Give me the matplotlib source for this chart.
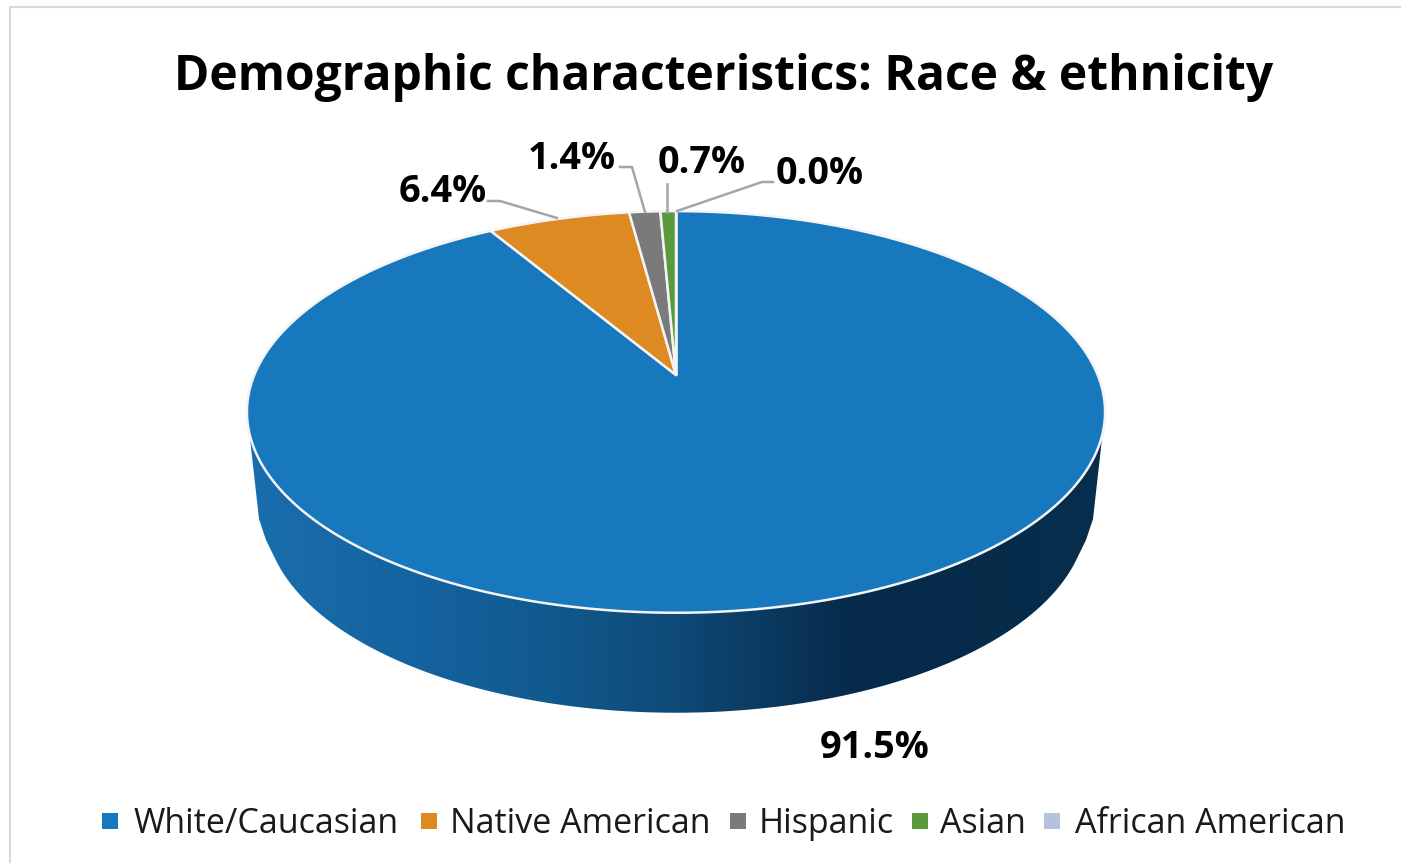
"""3D-look pie: demographic characteristics, race and ethnicity."""

import matplotlib
matplotlib.use("Agg")
import matplotlib.pyplot as plt
import numpy as np
from matplotlib.colors import LinearSegmentedColormap
from matplotlib.patches import Polygon, Rectangle

TITLE = "Demographic characteristics: Race & ethnicity"
CATEGORIES = ["White/Caucasian", "Native American", "Hispanic", "Asian", "African American"]
VALUES = [91.5, 6.4, 1.4, 0.7, 0.0]
LABELS = ["91.5%", "6.4%", "1.4%", "0.7%", "0.0%"]
COLORS = ["#1878BD", "#DD8A22", "#7A7A7A", "#5B9A3C", "#B4C1E0"]

W, H = 1401, 863
FONT = "Open Sans"

# pie projection, in pixels: apex, widths and perspective
APEX_X, APEX_Y = 676, 375
PROJ_A, PROJ_B, PROJ_K = 421.7, 194.0, 0.184
ELLIPSE_MID_Y = 412
RIM_DROP = 103
RIM_SCALE_X = 0.958
RIM_SCALE_Y = 0.985
RIM_TANGENT_Y = 560
# half width, y: rounds the side edge into the bottom curve
RIM_SHOULDER_HALF = np.array([417, 410])
RIM_SHOULDER_Y = np.array([519, 540])

# label anchors and leader lines (pixels)
LABEL_POS = [(875, 748), (443, 192), (572, 159), (702, 163), (820, 174)]
LEADERS = [
    None,
    [(488, 201), (500, 201), (557, 218)],
    [(620, 167), (632, 167), (645, 212)],
    [(667, 184), (667, 212)],
    [(773, 182), (762, 182), (677, 211)],
]
LEGEND_MARK_X = [110, 429, 738, 920, 1052]
LEGEND_TEXT_X = [133, 450, 759, 940, 1075]
LEGEND_Y = 821


def project(theta):
    """Map clockwise angle from 12 o'clock on the disc to picture pixels."""
    u, v = np.sin(theta), np.cos(theta)
    d = 1 + PROJ_K * v
    return np.column_stack([APEX_X + PROJ_A * u / d, APEX_Y - PROJ_B * v / d])


def main():
    fig = plt.figure(figsize=(W / 100, H / 100), dpi=100)
    ax = fig.add_axes([0, 0, 1, 1])
    ax.set_xlim(0, W)
    ax.set_ylim(H, 0)
    ax.axis("off")

    # chart frame
    ax.add_patch(Rectangle((10, 7), W, H, fc="white", ec="#D9D9D9", lw=1.5))

    # side of the disc, a horizontal gradient clipped to the outline
    theta = np.linspace(0, 2 * np.pi, 721)
    top = project(theta)
    bottom = top.copy()
    bottom[:, 0] = APEX_X + (top[:, 0] - APEX_X) * RIM_SCALE_X
    bottom[:, 1] = ELLIPSE_MID_Y + RIM_DROP + (top[:, 1] - ELLIPSE_MID_Y) * RIM_SCALE_Y
    right_shoulder = np.column_stack([APEX_X + RIM_SHOULDER_HALF, RIM_SHOULDER_Y])
    left_shoulder = np.column_stack([APEX_X - RIM_SHOULDER_HALF, RIM_SHOULDER_Y])[::-1]
    outline = np.vstack([
        top[(theta < np.pi) & (top[:, 1] <= ELLIPSE_MID_Y)],
        right_shoulder,
        bottom[bottom[:, 1] >= RIM_TANGENT_Y],
        left_shoulder,
        top[(theta > np.pi) & (top[:, 1] <= ELLIPSE_MID_Y)],
    ])
    rim_cmap = LinearSegmentedColormap.from_list("rim", [
        (0.00, "#1A6EAE"), (0.20, "#14629F"), (0.35, "#115A8E"), (0.50, "#0E4A77"),
        (0.70, "#072B4B"), (0.85, "#062C4A"), (1.00, "#072E4D"),
    ])
    grad = ax.imshow(np.linspace(0, 1, 512)[None, :], cmap=rim_cmap, aspect="auto",
                     extent=(247, 1105, 720, 400), zorder=1)
    rim = Polygon(outline, closed=True, fc="none", ec="none", transform=ax.transData)
    ax.add_patch(rim)
    grad.set_clip_path(rim)
    ax.set_xlim(0, W)
    ax.set_ylim(H, 0)

    # top face, clockwise from 12 o'clock
    start = 0.0
    for value, color in zip(VALUES, COLORS):
        sweep = 2 * np.pi * value / sum(VALUES)
        t = np.linspace(start, start + sweep, max(int(value * 8), 2))
        pts = np.vstack([[APEX_X, APEX_Y], project(t)])
        ax.add_patch(Polygon(pts, closed=True, fc=color, ec="#F4F4F4", lw=1.8,
                             joinstyle="round", zorder=2))
        start += sweep

    # labels and leaders
    for label, pos, line in zip(LABELS, LABEL_POS, LEADERS):
        ax.text(*pos, label, ha="center", va="center", fontsize=27.3,
                fontweight="bold", family=FONT, color="black", zorder=4)
        if line:
            xs, ys = zip(*line)
            ax.plot(xs, ys, color="#A6A6A6", lw=1.8, zorder=3)

    ax.text(724, 78, TITLE, ha="center", va="center", fontsize=34.6,
            fontweight="bold", family=FONT, color="black")

    # legend row
    for name, color, mx, tx in zip(CATEGORIES, COLORS, LEGEND_MARK_X, LEGEND_TEXT_X):
        ax.add_patch(Rectangle((mx - 8, LEGEND_Y - 8), 16, 16, fc=color, ec="none"))
        ax.text(tx, LEGEND_Y + 3, name, ha="left", va="center", fontsize=24.5,
                family=FONT, color="#1A1A1A")

    fig.savefig("out.png", dpi=100)
    plt.close(fig)


if __name__ == "__main__":
    main()
